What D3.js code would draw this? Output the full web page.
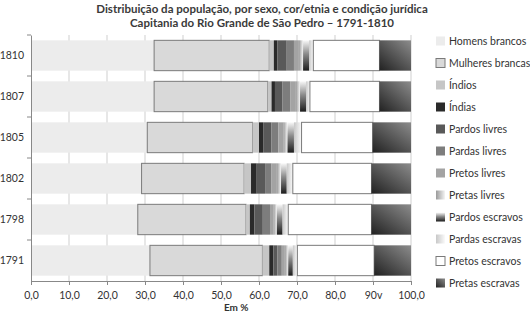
<!DOCTYPE html>
<html>
<head>
<meta charset="utf-8">
<script src="https://cdn.jsdelivr.net/npm/d3@7"></script>
<style>
    html, body { margin: 0; padding: 0; background: #fff; }
    svg { display: block; }
</style>
</head>
<body>
<script>
const years = ['1791', '1798', '1802', '1805', '1807', '1810']
const categories = ['Homens brancos', 'Mulheres brancas', 'Índios', 'Índias', 'Pardos livres',
    'Pardas livres', 'Pretos livres', 'Pretas livres', 'Pardos escravos', 'Pardas escravas',
    'Pretos escravos', 'Pretas escravas']

// percentages per year, same order as years
const homensBrancos = [31.3, 28.1, 29.1, 30.6, 32.4, 32.4]
const mulheresBrancas = [29.6, 28.5, 27.0, 27.7, 29.9, 30.3]
const indios = [1.8, 1.0, 1.8, 1.7, 1.0, 1.2]
const indias = [1.1, 1.2, 1.5, 1.1, 0.9, 0.9]
const pardosLivres = [1.0, 2.2, 2.2, 2.2, 2.0, 2.5]
const pardasLivres = [1.2, 1.9, 1.7, 1.8, 2.0, 1.9]
const pretosLivres = [0.8, 0.9, 1.4, 1.3, 1.5, 1.3]
const pretasLivres = [0.9, 0.9, 1.1, 1.1, 1.1, 1.1]
const pardosEscravos = [1.2, 1.5, 1.5, 1.7, 1.6, 1.6]
const pardasEscravas = [1.2, 1.5, 1.6, 2.0, 1.0, 1.1]
const pretosEscravos = [20.2, 21.9, 20.7, 18.7, 18.3, 17.4]
const pretasEscravas = [9.7, 10.4, 10.4, 10.1, 8.3, 8.3]

const xTicks = [0, 10, 20, 30, 40, 50, 60, 70, 80, 90, 100]
const xTickLabels = ['0,0', '10,0', '20,0', '30,0', '40,0', '50,0', '60,0', '70,0', '80,0', '90v', '100,0']

const series = [homensBrancos, mulheresBrancas, indios, indias, pardosLivres, pardasLivres,
    pretosLivres, pretasLivres, pardosEscravos, pardasEscravas, pretosEscravos, pretasEscravas]

const data = years.map((y, i) => {
    const row = { year: y }
    categories.forEach((c, j) => { row[c] = series[j][i] })
    return row
})

const font = 'Lato, "Noto Sans", sans-serif'
const w = 530, h = 313
const margin = { top: 35, right: 119, bottom: 32, left: 31 }
const innerWidth = w - margin.left - margin.right
const innerHeight = h - margin.top - margin.bottom

const svg = d3.select('body')
    .append('svg')
    .attr('width', w)
    .attr('height', h)
    .attr('viewBox', [0, 0, w, h])
    .attr('font-family', font)

// gradients for the patterned series
const defs = svg.append('defs')
const grad = (id, x1, y1, x2, y2, stops) => {
    const lg = defs.append('linearGradient')
        .attr('id', id)
        .attr('x1', x1).attr('y1', y1).attr('x2', x2).attr('y2', y2)
    stops.forEach(s => lg.append('stop').attr('offset', s[0]).attr('stop-color', s[1]))
}
grad('gPretasLivres', 0, 0, 1, 0, [[0, '#9a9a9a'], [1, '#f4f4f4']])
grad('gPardosEscravos', 0, 0, 0, 1, [[0, '#f8f8f8'], [0.45, '#8a8a8a'], [1, '#1c1c1c']])
grad('gPardasEscravas', 0, 0, 1, 0, [[0, '#c8c8c8'], [1, '#fafafa']])
grad('gPretasEscravas', 0.1, 1, 1, 0, [[0, '#262626'], [1, '#8c8c8c']])

const fills = ['#ececec', '#d9d9d9', '#c6c6c6', '#2a2a2a', '#595959', '#7d7d7d',
    '#a3a3a3', 'url(#gPretasLivres)', 'url(#gPardosEscravos)', 'url(#gPardasEscravas)',
    '#ffffff', 'url(#gPretasEscravas)']
const strokes = { 'Mulheres brancas': '#7a7a7a', 'Pretos escravos': '#7a7a7a' }

const color = d3.scaleOrdinal().domain(categories).range(fills)

const g = svg.append('g')
    .attr('transform', `translate(${margin.left}, ${margin.top})`)

const x = d3.scaleLinear()
    .domain([0, 100])
    .range([0, innerWidth])

const y = d3.scaleBand()
    .domain(years.slice().reverse())
    .range([0, innerHeight])
    .paddingInner(0.26)
    .paddingOuter(0.13)

// grid
g.append('g')
    .selectAll('line')
    .data(xTicks.slice(1))
    .join('line')
    .attr('x1', d => x(d)).attr('x2', d => x(d))
    .attr('y1', 0).attr('y2', innerHeight)
    .attr('stroke', '#cfcfcf')
    .attr('stroke-width', 1)

const stacked = d3.stack().keys(categories)(data)

g.append('g')
    .selectAll('g')
    .data(stacked)
    .join('g')
    .attr('fill', d => color(d.key))
    .attr('stroke', d => strokes[d.key] || 'none')
    .selectAll('rect')
    .data(d => d)
    .join('rect')
    .attr('x', d => x(d[0]))
    .attr('y', d => y(d.data.year))
    .attr('width', d => x(d[1]) - x(d[0]))
    .attr('height', y.bandwidth())

// x axis
const xAxisG = g.append('g')
    .attr('transform', `translate(0, ${innerHeight})`)
    .call(d3.axisBottom(x).tickValues(xTicks).tickSize(4).tickPadding(7)
        .tickFormat((d, i) => xTickLabels[i]))
    .attr('font-family', font)
    .attr('font-size', 10.5)
xAxisG.select('.domain').attr('stroke', '#888')
xAxisG.selectAll('.tick line').attr('stroke', '#888')
xAxisG.selectAll('text').attr('fill', '#333')

xAxisG.append('text')
    .attr('x', x(54))
    .attr('y', 30)
    .attr('fill', '#333')
    .attr('font-size', 10)
    .attr('font-weight', 'bold')
    .attr('text-anchor', 'middle')
    .text('Em %')

// y axis
const yAxisG = g.append('g')
    .call(d3.axisLeft(y).tickSize(0).tickPadding(7))
    .attr('font-family', font)
    .attr('font-size', 10.5)
yAxisG.select('.domain').attr('stroke', '#888')
yAxisG.selectAll('text').attr('fill', '#333')

// ticks between categories on left axis
const bounds = d3.range(years.length + 1).map(i => i * y.step() + y.step() * y.paddingOuter() - y.step() * y.paddingInner() / 2)
g.append('g')
    .selectAll('line')
    .data([0].concat(bounds.slice(1, -1)))
    .join('line')
    .attr('x1', -4).attr('x2', 0)
    .attr('y1', d => d)
    .attr('y2', d => d)
    .attr('stroke', '#888')

// title
const titleLines = ['Distribuição da população, por sexo, cor/etnia e condição jurídica',
    'Capitania do Rio Grande de São Pedro – 1791-1810']
svg.append('g')
    .selectAll('text')
    .data(titleLines)
    .join('text')
    .attr('x', 262)
    .attr('y', (d, i) => 13 + i * 14)
    .attr('text-anchor', 'middle')
    .attr('font-size', 11.5)
    .attr('font-weight', 'bold')
    .attr('fill', '#3a3a3a')
    .text(d => d)

// legend
const legend = svg.append('g')
    .attr('transform', 'translate(436, 41)')
const li = legend.selectAll('g')
    .data(categories)
    .join('g')
    .attr('transform', (d, i) => `translate(0, ${i * 22})`)
li.append('rect')
    .attr('x', 0)
    .attr('y', -4.5)
    .attr('width', 9)
    .attr('height', 9)
    .attr('fill', d => color(d))
    .attr('stroke', d => strokes[d] || 'none')
li.append('text')
    .attr('x', 13)
    .attr('y', 3.5)
    .attr('font-size', 10.5)
    .attr('fill', '#333')
    .text(d => d)
</script>
</body>
</html>
